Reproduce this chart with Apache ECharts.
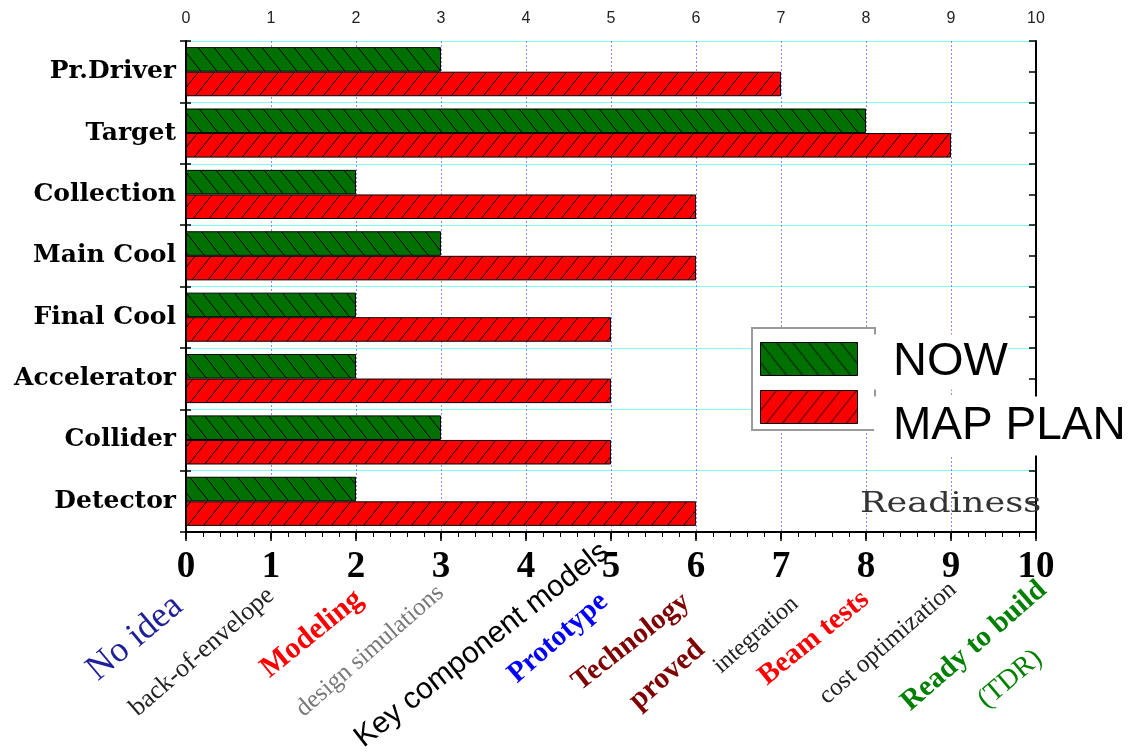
<!DOCTYPE html>
<html><head><meta charset="utf-8">
<script src="https://cdn.jsdelivr.net/npm/echarts@6/dist/echarts.min.js"></script>
<style>html,body{margin:0;padding:0;background:#fff}#c{width:1130px;height:755px}</style>
</head><body><div id="c"></div>
<script>
// ---- data ----
const categories = ['Pr.Driver','Target','Collection','Main Cool','Final Cool','Accelerator','Collider','Detector'];
const seriesNames = ['NOW','MAP PLAN'];
const nowValues = [3, 8, 2, 3, 2, 2, 3, 2];
const planValues = [7, 9, 6, 6, 5, 5, 5, 6];
const tickLabels = ['0','1','2','3','4','5','6','7','8','9','10'];
const stageLabels = ['No idea','back-of-envelope','Modeling','design simulations','Key component models','Prototype','Technology','proved','integration','Beam tests','cost optimization','Ready to build','(TDR)'];
const axisTitle = 'Readiness';

// ---- layout / style (separate from data) ----
const SERIF = '"Liberation Serif", "Times New Roman", serif';
const SANS = '"Liberation Sans", Arial, sans-serif';
const stageStyle = [
  {x:135,y:638,rot:40,font:'normal 36px '+SERIF,color:'#1f1f99'},
  {x:202,y:652,rot:41,font:'normal 26px '+SERIF,color:'#222'},
  {x:312,y:634,rot:39,font:'bold 30px '+SERIF,color:'#ff0000'},
  {x:370,y:651,rot:41,font:'normal 25px '+SERIF,color:'#777'},
  {x:482,y:645,rot:38,font:'normal 30px '+SANS,color:'#000'},
  {x:558,y:638,rot:41,font:'bold 29px '+SERIF,color:'#0000ff'},
  {x:631,y:642,rot:38,font:'bold 29px '+SERIF,color:'#7f0000'},
  {x:667,y:675,rot:41,font:'bold 30px '+SERIF,color:'#7f0000'},
  {x:756,y:635,rot:41,font:'normal 24px '+SERIF,color:'#222'},
  {x:814,y:638,rot:39,font:'bold 29px '+SERIF,color:'#ff0000'},
  {x:888,y:643,rot:41,font:'normal 25px '+SERIF,color:'#222'},
  {x:974,y:646,rot:41,font:'bold 29px '+SERIF,color:'#008000'},
  {x:1010,y:679,rot:40,font:'normal 28px '+SERIF,color:'#008000'}
];

function hatch(bg, dir){
  const w=16,h=20;
  const c=document.createElement('canvas'); c.width=w; c.height=h;
  const g=c.getContext('2d');
  g.fillStyle=bg; g.fillRect(0,0,w,h);
  g.strokeStyle='#000'; g.lineWidth=1;
  g.beginPath();
  if(dir==='\\'){ g.moveTo(-w,-h); g.lineTo(2*w,2*h); }
  else { g.moveTo(-w,2*h); g.lineTo(2*w,-h); }
  g.stroke();
  return {image:c, repeat:'repeat'};
}
const greenFill = hatch('#007000','\\');
const redFill = hatch('#ff0000','/');

const chart = echarts.init(document.getElementById('c'), null, {renderer:'canvas'});

const graphics = [
  {type:'rect', z:3, shape:{x:752,y:328,width:123,height:102}, style:{fill:'#fff',stroke:'#9a9a9a',lineWidth:2}},
  {type:'text', z:10, x:874, y:362, style:{text:seriesNames[0], font:'normal 47px '+SANS, lineHeight:40, fill:'#000', verticalAlign:'middle', backgroundColor:'#fff', padding:[12,0,3,19]}},
  {type:'text', z:10, x:874, y:426, style:{text:seriesNames[1], font:'normal 46px '+SANS, lineHeight:36, fill:'#000', verticalAlign:'middle', backgroundColor:'#fff', padding:[23,20,0,19]}},
  {type:'text', z:10, x:860, y:505, scaleX:1.3, style:{text:axisTitle, font:'normal 27px "DejaVu Serif", serif', fill:'#333', verticalAlign:'middle', align:'left'}}
];
stageLabels.forEach((t,i)=>{
  const s=stageStyle[i];
  graphics.push({type:'text', z:10, x:s.x, y:s.y, rotation:s.rot*Math.PI/180,
    style:{text:t, font:s.font, fill:s.color, align:'center', verticalAlign:'middle'}});
});

const option = {
  backgroundColor:'#fff',
  animation:false,
  grid:{left:186,right:94,top:41,bottom:223,containLabel:false},
  legend:{
    show:true, orient:'vertical', left:760, top:342, padding:0, itemWidth:97, itemHeight:33, itemGap:14,
    icon:'rect', formatter:()=>'', data:seriesNames, z:5, selectedMode:false,
    itemStyle:{borderColor:'#000',borderWidth:1}
  },
  xAxis:[
    {type:'value', position:'bottom', min:0, max:10, interval:1,
     axisLine:{show:true,lineStyle:{color:'#000',width:2}},
     axisTick:{show:true,inside:false,length:9,lineStyle:{color:'#000',width:1.5}},
     minorTick:{show:true,splitNumber:5,length:5,lineStyle:{color:'#000',width:1}},
     axisLabel:{margin:17,color:'#000',fontFamily:SERIF,fontWeight:'bold',fontSize:37,
       formatter:v=>tickLabels[Math.round(v)]},
     splitLine:{show:true,lineStyle:{color:'#8c8cff',type:[2,2],width:1}}},
    {type:'value', position:'top', min:0, max:10, interval:1,
     axisLine:{show:true,lineStyle:{color:'#000',width:2}},
     axisTick:{show:true,inside:true,length:7,lineStyle:{color:'#000',width:1.5}},
     minorTick:{show:true,splitNumber:5,length:5,lineStyle:{color:'#000',width:1}},
     axisLabel:{margin:14,color:'#222',fontFamily:SANS,fontSize:16,formatter:v=>tickLabels[Math.round(v)]},
     splitLine:{show:false}}
  ],
  yAxis:[
    {type:'category', position:'left', inverse:true, data:categories,
     axisLine:{show:true,lineStyle:{color:'#000',width:2}},
     axisTick:{show:true,inside:false,length:6,lineStyle:{color:'#000',width:1.5}},
     axisLabel:{margin:10,color:'#000',fontFamily:'"DejaVu Serif", serif',fontWeight:'bold',fontSize:25},
     splitLine:{show:true,interval:0,lineStyle:{color:'#80ffff',width:1}}},
    {type:'value', position:'right', min:0, max:16, interval:1,
     axisLine:{show:true,onZero:false,lineStyle:{color:'#000',width:2}},
     axisTick:{show:true,inside:true,length:7,lineStyle:{color:'#000',width:1.5}},
     axisLabel:{show:false}, splitLine:{show:false}},
    {type:'value', position:'left', min:0, max:8, interval:1,
     axisLine:{show:false},
     axisTick:{show:true,inside:true,length:5,lineStyle:{color:'#000',width:1.5}},
     axisLabel:{show:false}, splitLine:{show:false}}
  ],
  series:[
    {name:seriesNames[0], type:'bar', xAxisIndex:0, yAxisIndex:0, data:nowValues,
     barGap:'0%', barCategoryGap:'20%',
     itemStyle:{color:greenFill,borderColor:'#000',borderWidth:1}},
    {name:seriesNames[1], type:'bar', xAxisIndex:0, yAxisIndex:0, data:planValues,
     barGap:'0%', barCategoryGap:'20%',
     itemStyle:{color:redFill,borderColor:'#000',borderWidth:1}}
  ],
  graphic:graphics
};
chart.setOption(option);
</script></body></html>
